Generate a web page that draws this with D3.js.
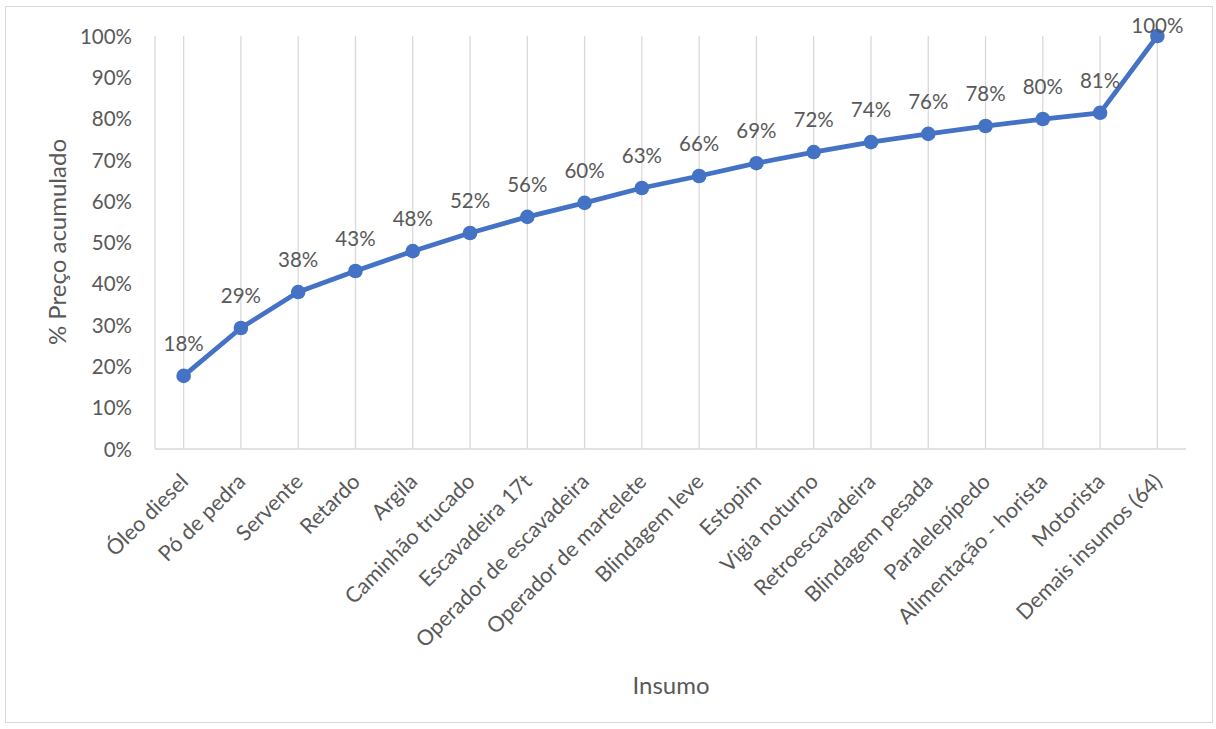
<!DOCTYPE html>
<html>
<head>
<meta charset="utf-8">
<script src="https://cdn.jsdelivr.net/npm/d3@7"></script>
<style>
  html, body { margin: 0; padding: 0; background: #fff; }
  svg { display: block; }
  text { font-family: Lato, "Open Sans", sans-serif; fill: #595959; }
</style>
</head>
<body>
<svg id="chart" width="1216" height="729"></svg>
<script>
// Insumos ordenados pelo peso no preço
const categories = [
  "Óleo diesel", "Pó de pedra", "Servente", "Retardo", "Argila",
  "Caminhão trucado", "Escavadeira 17t", "Operador de escavadeira",
  "Operador de martelete", "Blindagem leve", "Estopim", "Vigia noturno",
  "Retroescavadeira", "Blindagem pesada", "Paralelepípedo",
  "Alimentação - horista", "Motorista", "Demais insumos (64)"
];
// Percentual acumulado do preço
const cumulative = [0.177, 0.293, 0.380, 0.431, 0.479, 0.523, 0.562, 0.596,
  0.632, 0.661, 0.692, 0.719, 0.743, 0.763, 0.782, 0.799, 0.814, 1.00];
const yTicks = [0, 0.1, 0.2, 0.3, 0.4, 0.5, 0.6, 0.7, 0.8, 0.9, 1.0];

const svg = d3.select("#chart");
const plot = { left: 155, right: 1186, top: 36, bottom: 449 };
const labelFont = "20.5px";

// Moldura do gráfico
svg.append("rect")
  .attr("x", 5.5).attr("y", 6.5).attr("width", 1207).attr("height", 716)
  .attr("fill", "#fff").attr("stroke", "#d9d9d9").attr("stroke-width", 1);

const x = d3.scaleBand().domain(categories).range([plot.left, plot.right]);
const y = d3.scaleLinear().domain([0, 1]).range([plot.bottom, plot.top]);
const cx = d => x(d) + x.bandwidth() / 2;
const fmt = d3.format(".0%");

// Linhas de grade verticais, uma por insumo
svg.append("g").selectAll("line").data(categories).join("line")
  .attr("x1", d => cx(d)).attr("x2", d => cx(d))
  .attr("y1", plot.top).attr("y2", plot.bottom)
  .attr("stroke", "#d9d9d9").attr("stroke-width", 1.3);

// Eixos
svg.append("line")
  .attr("x1", plot.left).attr("x2", plot.left)
  .attr("y1", plot.top).attr("y2", plot.bottom)
  .attr("stroke", "#d9d9d9").attr("stroke-width", 1.3);
svg.append("line")
  .attr("x1", plot.left).attr("x2", plot.right)
  .attr("y1", plot.bottom).attr("y2", plot.bottom)
  .attr("stroke", "#d9d9d9").attr("stroke-width", 1.3);

// Rótulos do eixo Y
const yAxis = d3.axisLeft(y).tickValues(yTicks).tickFormat(fmt).tickSize(0).tickPadding(0);
const gy = svg.append("g").attr("transform", `translate(${plot.left - 23},0)`).call(yAxis);
gy.select(".domain").remove();
gy.selectAll("text").style("font-size", labelFont).style("font-family", "Lato, sans-serif").attr("fill", "#595959").attr("dy", "0.35em");

// Rótulos do eixo X, inclinados
const xAxis = d3.axisBottom(x).tickSize(0).tickPadding(0);
const gx = svg.append("g").attr("transform", `translate(0,${plot.bottom})`).call(xAxis);
gx.select(".domain").remove();
gx.selectAll("text")
  .style("font-size", "21.5px").style("font-family", "Lato, sans-serif").attr("fill", "#595959")
  .attr("text-anchor", "end")
  .attr("dy", null).attr("y", 0)
  .attr("transform", "translate(6,34) rotate(-45)");

// Títulos dos eixos
svg.append("text")
  .attr("transform", `translate(66,242) rotate(-90)`)
  .attr("text-anchor", "middle")
  .style("font-size", "24px")
  .text("% Preço acumulado");
svg.append("text")
  .attr("x", 671).attr("y", 694)
  .attr("text-anchor", "middle")
  .style("font-size", "24px")
  .text("Insumo");

// Linha acumulada
const line = d3.line().x((d, i) => cx(categories[i])).y(d => y(d));
svg.append("path").datum(cumulative)
  .attr("d", line).attr("fill", "none")
  .attr("stroke", "#4472c4").attr("stroke-width", 4.8)
  .attr("stroke-linejoin", "round");

svg.append("g").selectAll("circle").data(cumulative).join("circle")
  .attr("cx", (d, i) => cx(categories[i])).attr("cy", d => y(d))
  .attr("r", 7.3).attr("fill", "#4472c4");

// Rótulos de dados, mantidos dentro da moldura
svg.append("g").selectAll("text").data(cumulative).join("text")
  .attr("x", (d, i) => cx(categories[i])).attr("y", d => Math.max(y(d) - 32, 26))
  .attr("dy", "0.35em")
  .attr("text-anchor", "middle")
  .style("font-size", labelFont)
  .attr("fill", "#404040")
  .text(d => fmt(d));
</script>
</body>
</html>
